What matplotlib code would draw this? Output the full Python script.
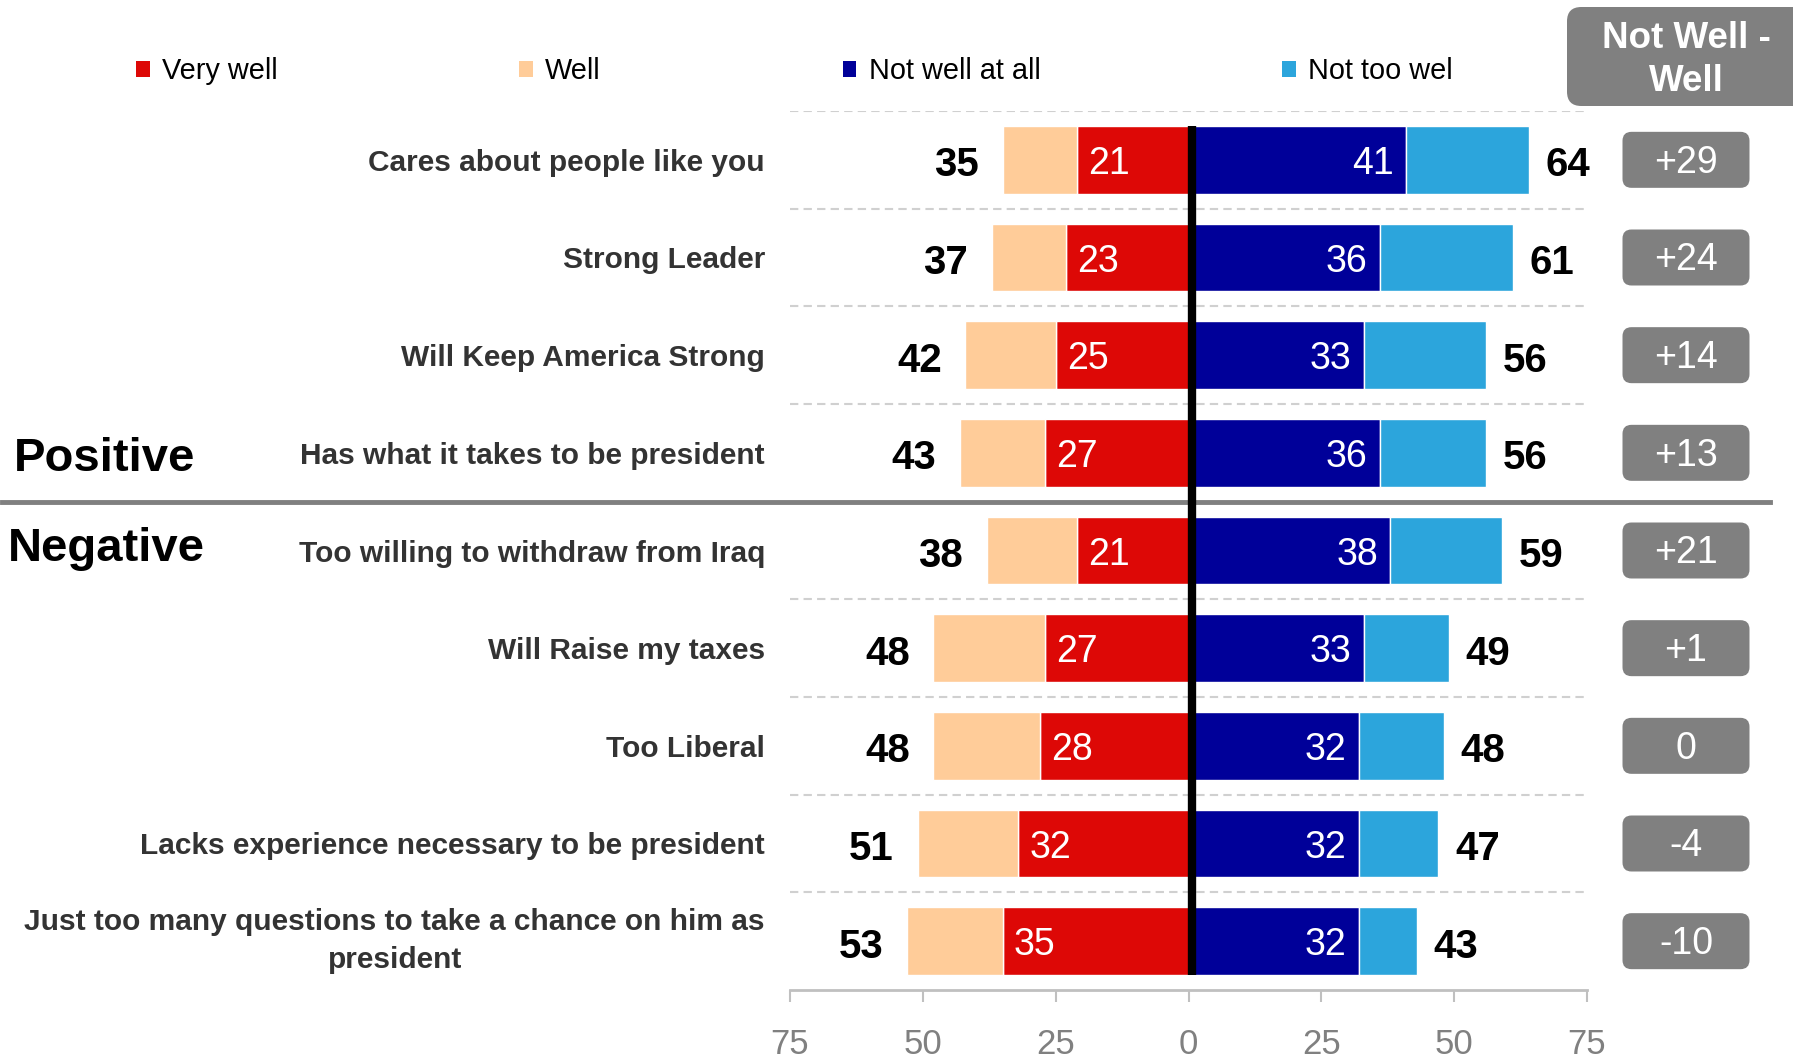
import matplotlib
matplotlib.use("Agg")
import matplotlib.pyplot as plt
from matplotlib.patches import Patch, FancyBboxPatch

plt.rcParams["font.family"] = ["Liberation Sans", "DejaVu Sans"]

categorias = [
    "Cares about people like you",
    "Strong Leader",
    "Will Keep America Strong",
    "Has what it takes to be president",
    "Too willing to withdraw from Iraq",
    "Will Raise my taxes",
    "Too Liberal",
    "Lacks experience necessary to be president",
    "Just too many questions to take a chance on him as\npresident",
]
very_well = [21, 23, 25, 27, 21, 27, 28, 32, 35]
well_total = [35, 37, 42, 43, 38, 48, 48, 51, 53]
not_well_at_all = [41, 36, 33, 36, 38, 33, 32, 32, 32]
not_well_total = [64, 61, 56, 56, 59, 49, 48, 47, 43]
ticks = [-75, -50, -25, 0, 25, 50, 75]

COR_VW = "#DD0806"
COR_W = "#FFCC99"
COR_NWA = "#000099"
COR_NTW = "#2CA5DC"
CINZA = "#808080"

W, H = 1793, 1060
fig = plt.figure(figsize=(W / 100, H / 100), dpi=100)

# eixo principal (posicao em pixels da referencia)
ax_l, ax_r, ax_t, ax_b = 790, 1587, 111, 990
pos = [ax_l / W, 1 - ax_b / H, (ax_r - ax_l) / W, (ax_b - ax_t) / H]
ax = fig.add_axes(pos)

y = list(range(len(categorias)))
well_only = [t - v for t, v in zip(well_total, very_well)]
ntw_only = [t - v for t, v in zip(not_well_total, not_well_at_all)]

h = 0.69
ax.barh(y, [-v for v in very_well], height=h, color=COR_VW, edgecolor="white", linewidth=1)
ax.barh(y, [-v for v in well_only], left=[-v for v in very_well], height=h,
        color=COR_W, edgecolor="white", linewidth=1)
ax.barh(y, not_well_at_all, height=h, color=COR_NWA, edgecolor="white", linewidth=1)
ax.barh(y, ntw_only, left=not_well_at_all, height=h, color=COR_NTW,
        edgecolor="white", linewidth=1)

# linha preta do zero
ax.plot([0.6, 0.6], [-h / 2, len(y) - 1 + h / 2], color="black", lw=6,
        solid_capstyle="butt", zorder=4)

dy = -3
for i in y:
    ax.annotate(str(very_well[i]), xy=(-very_well[i], i), xytext=(8, dy),
                textcoords="offset points", ha="left", va="center",
                color="white", fontsize=27)
    ax.annotate(str(not_well_at_all[i]), xy=(not_well_at_all[i], i), xytext=(-9, dy),
                textcoords="offset points", ha="right", va="center",
                color="white", fontsize=27)
    ax.annotate(str(well_total[i]), xy=(-well_total[i], i), xytext=(-17, dy - 1),
                textcoords="offset points", ha="right", va="center",
                color="black", fontsize=29, fontweight="bold")
    ax.annotate(str(not_well_total[i]), xy=(not_well_total[i], i), xytext=(12, dy - 1),
                textcoords="offset points", ha="left", va="center",
                color="black", fontsize=29, fontweight="bold")

# separadores
for b in [-0.5, 0.5, 1.5, 2.5, 4.5, 5.5, 6.5, 7.5]:
    ax.hlines(b, -75, 75, colors="#D0D0D0", linestyles=(0, (4, 2.5)), lw=1.5)
largura = ax_r - ax_l
ax.axhline(3.5, xmin=(2 - ax_l) / largura, xmax=(1770 - ax_l) / largura,
           color=CINZA, lw=3.5, clip_on=False)

ax.set_xlim(-75, 75)
ax.set_ylim(len(y) - 0.5, -0.5)
ax.set_xticks(ticks)
ax.set_xticklabels([str(abs(t)) for t in ticks])
ax.set_yticks(y)
ax.set_yticklabels(categorias)
ax.tick_params(axis="y", length=0, pad=18, labelsize=21.5, labelcolor="#333333")
for t in ax.get_yticklabels():
    t.set_fontweight("bold")
    if "\n" in t.get_text():
        t.set_multialignment("center")
        t.set_linespacing(1.45)
        t.set_va("center")
ax.tick_params(axis="x", direction="out", length=8.5, width=1.5, color="#C0C0C0",
               labelsize=25, labelcolor=CINZA, pad=19)
for s in ["left", "right", "top"]:
    ax.spines[s].set_visible(False)
ax.spines["bottom"].set_color("#C0C0C0")
ax.spines["bottom"].set_linewidth(2)

# coluna Not Well - Well
x0 = 1567
ax2 = fig.add_axes([x0 / W, pos[1], (W - x0) / W, pos[3]])
ax2.set_xlim(x0, W)
ax2.set_ylim(ax.get_ylim())
ax2.axis("off")
px_por_unidade = (ax_b - ax_t) / len(y)
for i in y:
    diff = not_well_total[i] - well_total[i]
    txt = f"+{diff}" if diff > 0 else str(diff)
    caixa = FancyBboxPatch((1686 - 63.5, i - 28 / px_por_unidade), 127, 56 / px_por_unidade,
                           boxstyle="round,pad=0,rounding_size=9",
                           mutation_aspect=1 / px_por_unidade,
                           facecolor=CINZA, edgecolor="none")
    ax2.add_patch(caixa)
    ax2.annotate(txt, xy=(1686, i), xytext=(0, -2), textcoords="offset points",
                 ha="center", va="center", color="white", fontsize=27)

cab = FancyBboxPatch((1567 / W, 1 - 106 / H), 260 / W, 99 / H,
                     boxstyle="round,pad=0,rounding_size=0.008",
                     mutation_aspect=W / H, transform=fig.transFigure,
                     facecolor=CINZA, edgecolor="none")
fig.patches.append(cab)
fig.text(1686 / W, 1 - 60 / H, "Not Well -\nWell", ha="center", va="center",
         color="white", fontsize=26.5, fontweight="bold", linespacing=1.3)

fig.text(14 / W, 1 - 459 / H, "Positive", ha="left", va="center",
         fontsize=34, fontweight="bold", color="black")
fig.text(8 / W, 1 - 549 / H, "Negative", ha="left", va="center",
         fontsize=34, fontweight="bold", color="black")

handles = [
    Patch(facecolor=COR_VW, label="Very well"),
    Patch(facecolor=COR_W, label="Well"),
    Patch(facecolor=COR_NWA, label="Not well at all"),
    Patch(facecolor=COR_NTW, label="Not too wel"),
]
fig.legend(handles=handles, loc="center left", bbox_to_anchor=(136 / W, 1 - 71 / H),
           ncol=4, frameon=False, fontsize=20.8, borderpad=0, borderaxespad=0,
           handlelength=0.47, handleheight=0.47, handletextpad=0.42,
           columnspacing=8.38)

fig.savefig("out.png", dpi=100)
